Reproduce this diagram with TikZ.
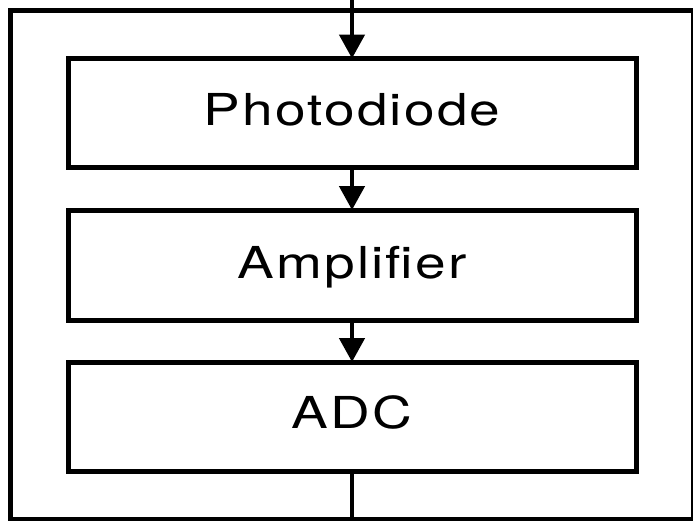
\documentclass[tikz,border=0pt]{standalone}
\usepackage{fontspec}
\newfontfamily\boxfont{TeX Gyre Heros}[FakeStretch=1.25,LetterSpace=5]
\usetikzlibrary{arrows.meta}
\begin{document}
\begin{tikzpicture}[x=0.75pt,y=-0.75pt,
  box/.style={draw=black, line width=3.75pt, outer sep=0pt, minimum width=568*0.75pt, inner sep=0pt},
  frame/.style={draw=black, line width=3.75pt, outer sep=0pt, inner sep=0pt, minimum width=683.5*0.75pt, minimum height=509*0.75pt},
  label/.style={font=\boxfont\fontsize{33pt}{33pt}\selectfont, anchor=base, inner sep=0pt},
  conn/.style={line width=3.5pt, -{Triangle[width=18.75pt,length=18pt]}},
  plain/.style={line width=3pt}]
\useasboundingbox (0,0) rectangle (693,521);
\node[frame] (outer) at (351.75,265) {};
\node[box, minimum height=109*0.75pt] (pd) at (352,113) {};
\node[box, minimum height=110*0.75pt] (amp) at (352,265) {};
\node[box, minimum height=109.5*0.75pt] (adc) at (352,416.75) {};
\node[label] (pdt) at (352,125.7) {Photodiode};
\node[label] (ampt) at (352,278.3) {Amplifier};
\node[label] (adct) at (352,428.3) {ADC};
\coordinate (in) at (352,-5);
\coordinate (out) at (352,525);
\draw[conn] (in) -- (pd.north);
\draw[conn] (pd.south) -- (amp.north);
\draw[conn] (amp.south) -- (adc.north);
\draw[plain] (adc.south) -- (out);
\end{tikzpicture}
\end{document}
